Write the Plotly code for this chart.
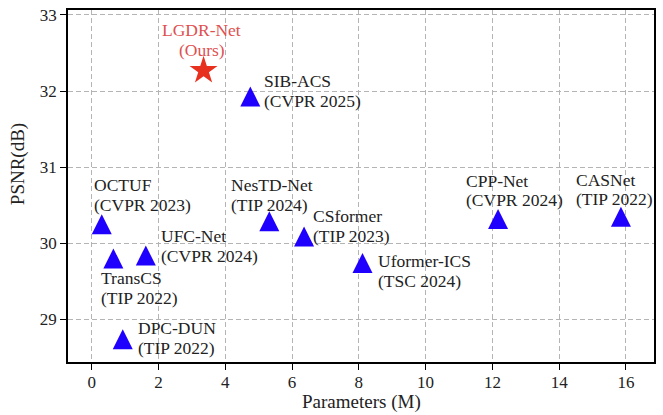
import plotly.graph_objects as go

# Methods compared: parameter count (M) vs. PSNR (dB)
names = ["SIB-ACS", "OCTUF", "TransCS", "UFC-Net", "DPC-DUN",
         "NesTD-Net", "CSformer", "Uformer-ICS", "CPP-Net", "CASNet"]
venues = ["(CVPR 2025)", "(CVPR 2023)", "(TIP 2022)", "(CVPR 2024)", "(TIP 2022)",
          "(TIP 2024)", "(TIP 2023)", "(TSC 2024)", "(CVPR 2024)", "(TIP 2022)"]
params = [4.75, 0.30, 0.65, 1.62, 0.93, 5.32, 6.36, 8.11, 12.17, 15.85]
psnr = [31.93, 30.25, 29.80, 29.84, 28.74, 30.29, 30.09, 29.74, 30.32, 30.35]

ours_name = "LGDR-Net"
ours_venue = "(Ours)"
ours_params = [3.35]
ours_psnr = [32.27]

x_ticks = [0, 2, 4, 6, 8, 10, 12, 14, 16]
y_ticks = [29, 30, 31, 32, 33]

# label placement (pixel offset of first text line from its marker)
label_offsets = [(12, -15), (-10, -39), (-14, 20), (13, -19), (13, -11),
                 (-40, -36), (7, -20), (13, -2), (-34, -38), (-47, -37)]
line_gap = 19.5

FONT = "Liberation Serif, Times New Roman, serif"
BLUE = "#1f00ff"
RED = "#e8301f"
LABEL_SIZE = 17.5

fig = go.Figure()

fig.add_trace(go.Scatter(
    x=params, y=psnr, mode="markers",
    marker=dict(symbol="arrow-down", angle=180, standoff=10, size=20,
                color=BLUE, line=dict(width=0)),
    hoverinfo="skip", showlegend=False,
))

fig.add_trace(go.Scatter(
    x=ours_params, y=ours_psnr, mode="markers",
    marker=dict(symbol="star", size=21, color=RED, line=dict(width=0)),
    hoverinfo="skip", showlegend=False,
))

annotations = []
for n, v, px, py, (dx, dy) in zip(names, venues, params, psnr, label_offsets):
    for k, txt in enumerate((n, v)):
        annotations.append(dict(
            x=px, y=py, xref="x", yref="y", text=txt, showarrow=False,
            xanchor="left", yanchor="middle",
            xshift=dx, yshift=-(dy + k * line_gap),
            font=dict(family=FONT, size=LABEL_SIZE, color="#222222"),
        ))

for k, txt in enumerate((ours_name, ours_venue)):
    annotations.append(dict(
        x=ours_params[0], y=ours_psnr[0], xref="x", yref="y", text=txt,
        showarrow=False, xanchor="center", yanchor="middle",
        xshift=-2, yshift=-(-40.5 + k * line_gap),
        font=dict(family=FONT, size=LABEL_SIZE, color="#e05050"),
    ))

# axis titles
annotations.append(dict(
    x=0.5, y=0, xref="paper", yref="paper", text="Parameters (M)",
    showarrow=False, xanchor="center", yanchor="middle", yshift=-40,
    font=dict(family=FONT, size=19, color="#222222"),
))
annotations.append(dict(
    x=0, y=0.562, xref="paper", yref="paper", text="PSNR(dB)",
    showarrow=False, xanchor="center", yanchor="middle", xshift=-50,
    textangle=-90, font=dict(family=FONT, size=19, color="#222222"),
))

axis_common = dict(
    showline=True, linecolor="black", linewidth=1.5, mirror=True,
    ticks="outside", ticklen=6, tickwidth=1.2, tickcolor="black",
    showgrid=True, gridcolor="#b4b4b4", gridwidth=1, griddash="5px,3px",
    zeroline=False,
    tickfont=dict(family=FONT, size=17, color="#222222"),
)

fig.update_xaxes(range=[-0.71, 16.84], tickvals=x_ticks,
                 ticklabelstandoff=-2, **axis_common)
fig.update_yaxes(range=[28.44, 33.065], tickvals=y_ticks, **axis_common)

fig.update_layout(
    width=663, height=415,
    margin=dict(l=68, r=9, t=6, b=53),
    paper_bgcolor="white", plot_bgcolor="white",
    annotations=annotations,
    font=dict(family=FONT),
)

fig.write_html("out.html")
